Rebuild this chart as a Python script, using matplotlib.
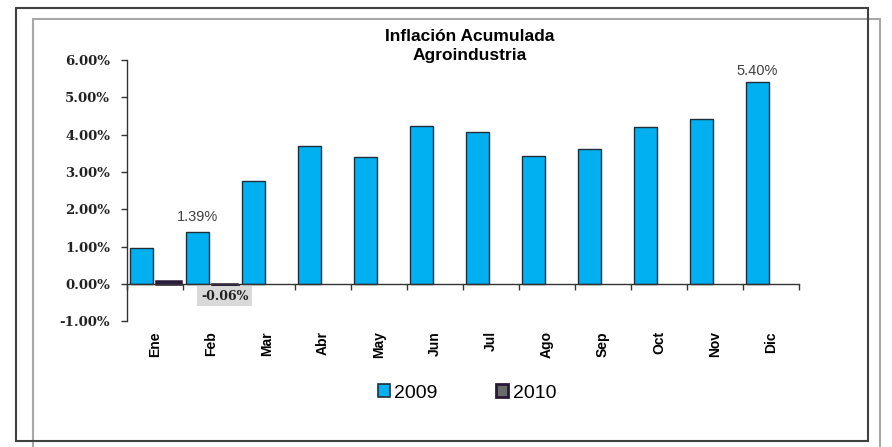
import numpy as np
import matplotlib
matplotlib.use("Agg")
import matplotlib.pyplot as plt
from matplotlib.patches import Patch, Rectangle
import matplotlib.ticker as ticker

months = ["Ene", "Feb", "Mar", "Abr", "May", "Jun", "Jul", "Ago", "Sep", "Oct", "Nov", "Dic"]
infl_2009 = [0.96, 1.39, 2.77, 3.70, 3.40, 4.23, 4.06, 3.42, 3.63, 4.20, 4.41, 5.40]
months_2010 = ["Ene", "Feb"]
infl_2010 = [0.08, -0.06]

C2009, E2009 = "#00B0F0", "#1F2F3A"
C2010, E2010 = "#3B2850", "#2A1A3A"
OFF, W = 0.245, 0.41

fig = plt.figure(figsize=(8.92, 4.47), dpi=100)
ax = fig.add_axes([127 / 892, 1 - 321.5 / 447, 672 / 892, 261.5 / 447])

x = np.arange(len(months))
x10 = np.array([months.index(m) for m in months_2010])
ax.bar(x - OFF, infl_2009, width=W, color=C2009, edgecolor=E2009, linewidth=1.0, zorder=3)
ax.bar(x10 + OFF, infl_2010, width=W + 0.04, color=C2010, edgecolor=E2010, linewidth=1.8, zorder=3)

ax.set_xlim(-0.5, len(months) - 0.5)
ax.set_ylim(-1, 6)
ax.yaxis.set_major_locator(ticker.MultipleLocator(1))
ax.yaxis.set_major_formatter(ticker.FuncFormatter(lambda v, _: f"{v:.2f}%"))
for lab in ax.get_yticklabels():
    lab.set_fontfamily("DejaVu Serif")
    lab.set_fontweight("bold")
    lab.set_fontsize(9.5)
    lab.set_color("#222222")
ax.tick_params(axis="y", direction="out", length=4, width=1, color="#333333", pad=8)

# category axis sits on zero, labels low
ax.spines["bottom"].set_position(("data", 0))
ax.set_xticks(x)
ax.set_xticklabels(months, rotation=90, va="top", ha="center",
                   fontfamily="Liberation Sans", fontweight="bold", fontsize=10)
ax.tick_params(axis="x", which="major", length=0, pad=34)
ax.set_xticks(np.arange(-0.5, len(months)), minor=True)
ax.tick_params(axis="x", which="minor", direction="out", length=4, width=1, color="#333333")

for s in ["top", "right"]:
    ax.spines[s].set_visible(False)
for s in ["left", "bottom"]:
    ax.spines[s].set_color("#333333")
    ax.spines[s].set_linewidth(1.0)
ax.spines["bottom"].set_zorder(4)

# data labels
ax.annotate(f"{infl_2009[1]:.2f}%", (1 - OFF, infl_2009[1]), xytext=(0, 6), textcoords="offset points",
            ha="center", va="bottom", fontsize=10.5, color="#404040", fontfamily="Liberation Sans")
ax.annotate(f"{infl_2009[-1]:.2f}%", (len(months) - 1 - OFF, infl_2009[-1]), xytext=(0, 3), textcoords="offset points",
            ha="center", va="bottom", fontsize=10.5, color="#404040", fontfamily="Liberation Sans")
ax.annotate(f"{infl_2010[1]:.2f}%", (1 + OFF, infl_2010[1]), xytext=(0, -7), textcoords="offset points",
            ha="center", va="center", fontsize=9, fontweight="bold", color="#222222",
            fontfamily="DejaVu Serif",
            bbox=dict(boxstyle="square,pad=0.3", facecolor="#D9D9D9", edgecolor="none"))

fig.text(470 / 892, 1 - 46 / 447, "Inflación Acumulada\nAgroindustria", ha="center", va="center",
         fontsize=12.5, fontweight="bold", fontfamily="Liberation Sans", linespacing=1.3)

handles = [Patch(facecolor=C2009, edgecolor=E2009, linewidth=1.2, label="2009"),
           Patch(facecolor="#6A6A6A", edgecolor=E2010, linewidth=2.0, label="2010")]
fig.legend(handles=handles, loc="center", bbox_to_anchor=(467 / 892, 1 - 393 / 447), ncol=2, frameon=False,
           prop={"family": "Liberation Sans", "size": 14}, handlelength=0.6, handleheight=0.6,
           handletextpad=0.25, columnspacing=3.0)

# outer frames
fig.add_artist(Rectangle((33 / 892, -0.02), (880 - 33) / 892, 1.02 - 19 / 447, transform=fig.transFigure,
                         fill=False, edgecolor="#A8A8A8", linewidth=1.5))
fig.add_artist(Rectangle((16 / 892, 1 - 441 / 447), (868 - 16) / 892, (441 - 7.5) / 447, transform=fig.transFigure,
                         fill=False, edgecolor="#404040", linewidth=1.5))

fig.savefig("out.png", dpi=100)
